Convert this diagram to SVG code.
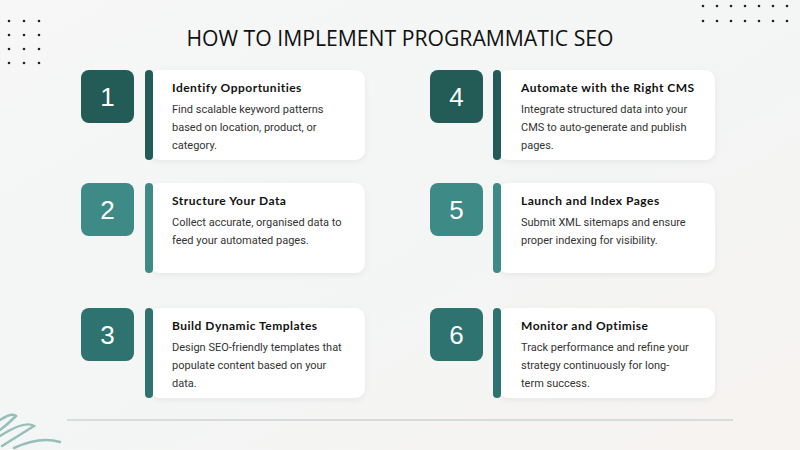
<svg xmlns="http://www.w3.org/2000/svg" width="800" height="450" viewBox="0 0 800 450">
<defs>
<linearGradient id="bg" x1="0" y1="0" x2="1" y2="1"><stop offset="0" stop-color="#f6f7f6"/><stop offset="0.5" stop-color="#f3f6f5"/><stop offset="1" stop-color="#f7f3f1"/></linearGradient>
<filter id="sh" x="-10%" y="-10%" width="120%" height="130%"><feDropShadow dx="0" dy="2" stdDeviation="3" flood-color="#000" flood-opacity="0.06"/></filter>
</defs>
<style>
.card{fill:#fff;filter:url(#sh)}
.num{font-family:"Liberation Sans",Arial,sans-serif;font-size:26px;fill:#fff;text-anchor:middle}
.t{font-family:"Lato","Noto Sans",sans-serif;font-weight:bold;font-size:12px;letter-spacing:0.5px;fill:#111}
.b{font-family:"Roboto","Liberation Sans",sans-serif;font-size:11px;fill:#333}
.d{fill:#222}
.c1{fill:#235b57}.c2{fill:#3e8a86}.c3{fill:#2e7370}
</style>
<rect width="800" height="450" fill="url(#bg)"/>
<g class="d">
<circle cx="9" cy="21" r="1.3"/><circle cx="24" cy="21" r="1.3"/><circle cx="39" cy="21" r="1.3"/>
<circle cx="9" cy="35" r="1.3"/><circle cx="24" cy="35" r="1.3"/><circle cx="39" cy="35" r="1.3"/>
<circle cx="9" cy="49" r="1.3"/><circle cx="24" cy="49" r="1.3"/><circle cx="39" cy="49" r="1.3"/>
<circle cx="9" cy="63" r="1.3"/><circle cx="24" cy="63" r="1.3"/><circle cx="39" cy="63" r="1.3"/>
<circle cx="703" cy="6" r="1.3"/><circle cx="717" cy="6" r="1.3"/><circle cx="731" cy="6" r="1.3"/><circle cx="745" cy="6" r="1.3"/><circle cx="759" cy="6" r="1.3"/><circle cx="773" cy="6" r="1.3"/><circle cx="787" cy="6" r="1.3"/>
<circle cx="703" cy="21" r="1.3"/><circle cx="717" cy="21" r="1.3"/><circle cx="731" cy="21" r="1.3"/><circle cx="745" cy="21" r="1.3"/><circle cx="759" cy="21" r="1.3"/><circle cx="773" cy="21" r="1.3"/><circle cx="787" cy="21" r="1.3"/>
</g>
<g fill="none" stroke="#7fb2ab" stroke-width="2.5" stroke-linecap="round" opacity="0.8">
<path d="M0 420 Q12 412 16 416 Q8 424 0 430"/>
<path d="M0 436 Q25 420 34 426 Q18 436 2 446"/>
<path d="M14 448 Q40 436 60 442"/>
</g>
<text x="400" y="46" text-anchor="middle" font-family="'Open Sans','Liberation Sans',sans-serif" font-size="21" textLength="427" lengthAdjust="spacingAndGlyphs" fill="#111">HOW TO IMPLEMENT PROGRAMMATIC SEO</text>
<g id="step1"><rect x="81" y="70" width="53" height="53" rx="8" class="c1"/><text x="107.5" y="106" class="num">1</text><rect x="150" y="70" width="215" height="90" rx="10" class="card"/><rect x="145" y="70" width="8" height="90" rx="4" class="c1"/><text x="172" y="92" class="t">Identify Opportunities</text><text class="b"><tspan x="172" y="113">Find scalable keyword patterns</tspan><tspan x="172" y="131">based on location, product, or</tspan><tspan x="172" y="149">category.</tspan></text></g>
<g id="step2"><rect x="81" y="183" width="53" height="53" rx="8" class="c2"/><text x="107.5" y="219" class="num">2</text><rect x="150" y="183" width="215" height="90" rx="10" class="card"/><rect x="145" y="183" width="8" height="90" rx="4" class="c2"/><text x="172" y="205" class="t">Structure Your Data</text><text class="b"><tspan x="172" y="226">Collect accurate, organised data to</tspan><tspan x="172" y="244">feed your automated pages.</tspan></text></g>
<g id="step3"><rect x="81" y="308" width="53" height="53" rx="8" class="c3"/><text x="107.5" y="344" class="num">3</text><rect x="150" y="308" width="215" height="90" rx="10" class="card"/><rect x="145" y="308" width="8" height="90" rx="4" class="c3"/><text x="172" y="330" class="t">Build Dynamic Templates</text><text class="b"><tspan x="172" y="351">Design SEO-friendly templates that</tspan><tspan x="172" y="369">populate content based on your</tspan><tspan x="172" y="387">data.</tspan></text></g>
<g id="step4"><rect x="430" y="70" width="53" height="53" rx="8" class="c1"/><text x="456.5" y="106" class="num">4</text><rect x="498" y="70" width="217" height="90" rx="10" class="card"/><rect x="493" y="70" width="8" height="90" rx="4" class="c1"/><text x="521" y="92" class="t">Automate with the Right CMS</text><text class="b"><tspan x="521" y="113">Integrate structured data into your</tspan><tspan x="521" y="131">CMS to auto-generate and publish</tspan><tspan x="521" y="149">pages.</tspan></text></g>
<g id="step5"><rect x="430" y="183" width="53" height="53" rx="8" class="c2"/><text x="456.5" y="219" class="num">5</text><rect x="498" y="183" width="217" height="90" rx="10" class="card"/><rect x="493" y="183" width="8" height="90" rx="4" class="c2"/><text x="521" y="205" class="t">Launch and Index Pages</text><text class="b"><tspan x="521" y="226">Submit XML sitemaps and ensure</tspan><tspan x="521" y="244">proper indexing for visibility.</tspan></text></g>
<g id="step6"><rect x="430" y="308" width="53" height="53" rx="8" class="c3"/><text x="456.5" y="344" class="num">6</text><rect x="498" y="308" width="217" height="90" rx="10" class="card"/><rect x="493" y="308" width="8" height="90" rx="4" class="c3"/><text x="521" y="330" class="t">Monitor and Optimise</text><text class="b"><tspan x="521" y="351">Track performance and refine your</tspan><tspan x="521" y="369">strategy continuously for long-</tspan><tspan x="521" y="387">term success.</tspan></text></g>
<g id="connectors"><line x1="67" y1="420" x2="733" y2="420" stroke="#b9c4c2" stroke-width="1.2"/></g>
</svg>
